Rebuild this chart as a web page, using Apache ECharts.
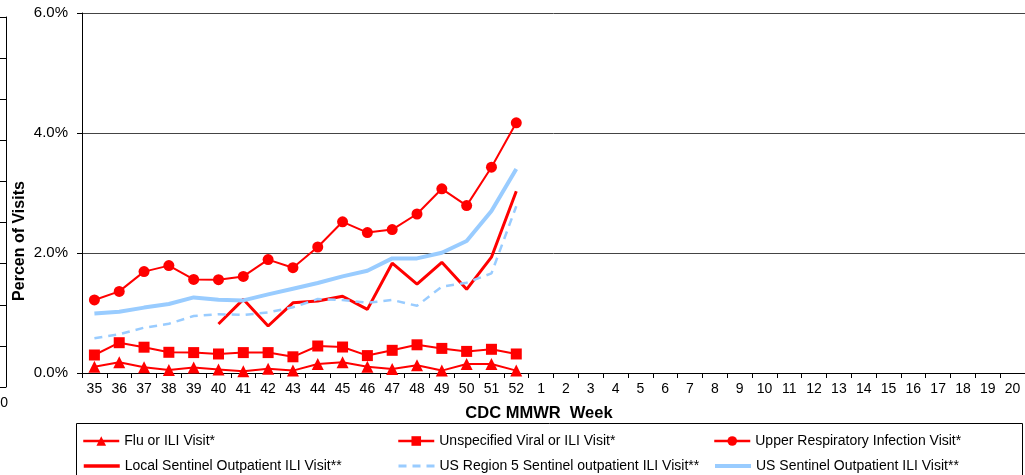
<!DOCTYPE html>
<html>
<head>
<meta charset="utf-8">
<script src="https://cdn.jsdelivr.net/npm/echarts@6/dist/echarts.min.js"></script>
<style>
html,body{margin:0;padding:0;background:#fff;}
#chart{width:1025px;height:475px;}
</style>
</head>
<body>
<div id="chart"></div>
<script>
var weeks = ['35','36','37','38','39','40','41','42','43','44','45','46','47','48','49','50','51','52',
  '1','2','3','4','5','6','7','8','9','10','11','12','13','14','15','16','17','18','19','20'];
var yTicks = [0, 2, 4, 6];

var fluILI = [0.105,0.18,0.095,0.05,0.09,0.06,0.03,0.07,0.04,0.15,0.18,0.105,0.065,0.13,0.04,0.15,0.15,0.04];
var unspecViral = [0.30,0.505,0.43,0.345,0.34,0.317,0.34,0.34,0.27,0.45,0.433,0.29,0.378,0.47,0.41,0.36,0.395,0.317];
var upperResp = [1.217,1.36,1.69,1.79,1.56,1.555,1.61,1.89,1.755,2.10,2.52,2.34,2.39,2.65,3.07,2.79,3.43,4.17];
var localSentinel = [null,null,null,null,null,0.817,1.228,0.783,1.17,1.20,1.28,1.06,1.83,1.48,1.845,1.395,1.93,3.03];
var region5Sentinel = [0.58,0.645,0.755,0.82,0.95,0.98,0.967,1.01,1.095,1.233,1.217,1.17,1.217,1.12,1.44,1.505,1.66,2.78];
var usSentinel = [0.99,1.02,1.09,1.15,1.26,1.22,1.21,1.31,1.405,1.50,1.61,1.705,1.91,1.91,2.005,2.20,2.70,3.40];

var names = ['Flu or ILI Visit*','Unspecified Viral or ILI Visit*','Upper Respiratory Infection Visit*',
  'Local Sentinel Outpatient ILI Visit**','US Region 5 Sentinel outpatient ILI Visit**','US Sentinel Outpatient ILI Visit**'];

var RED = '#ff0000', BLUE = '#99ccff';
var FONT = 'Liberation Sans, Arial, sans-serif';

var chart = echarts.init(document.getElementById('chart'));

var legendPos = [[82,434],[397,434],[713,434],[82,459],[397,459],[713,459]];
var legendLineW = [2.5, 2.5, 2.5, 3.5, 3, 4];
var legends = names.map(function(n, i){
  var lg = {
    data: [n], left: legendPos[i][0], top: legendPos[i][1],
    itemWidth: 36, itemHeight: 12, itemGap: 0,
    textStyle: {fontFamily: FONT, fontSize: 14, color: '#000'},
    lineStyle: {width: legendLineW[i]},
    selectedMode: false, padding: 0
  };
  if (i >= 3) lg.itemStyle = {opacity: 0};
  return lg;
});

var option = {
  animation: false,
  backgroundColor: '#fff',
  grid: [
    {left: 82, top: 13, width: 944, height: 360},
    {left: 6, top: 17, width: 1, height: 370}
  ],
  legend: legends,
  xAxis: [
    {
      type: 'category', data: weeks, gridIndex: 0,
      boundaryGap: true,
      axisLine: {lineStyle: {color: '#000', width: 1}},
      axisTick: {show: true, length: 5, interval: 0, lineStyle: {color: '#000'}},
      axisLabel: {interval: 0, color: '#000', fontFamily: FONT, fontSize: 14, margin: 9}
    },
    {type: 'category', gridIndex: 1, data: ['a'], show: false}
  ],
  yAxis: [
    {
      type: 'value', gridIndex: 0, min: 0, max: 6, interval: 2,
      axisLine: {show: true, lineStyle: {color: '#000', width: 1}},
      axisTick: {show: true, length: 5, lineStyle: {color: '#000'}},
      splitLine: {show: true, lineStyle: {color: '#444', width: 1}},
      axisLabel: {color: '#000', fontFamily: FONT, fontSize: 15, margin: 14,
        formatter: function(v){ return v.toFixed(1) + '%'; }}
    },
    {
      type: 'value', gridIndex: 1, min: 0, max: 9, interval: 1,
      axisLine: {show: true, lineStyle: {color: '#000', width: 1}},
      axisTick: {show: true, length: 6, lineStyle: {color: '#000'}},
      splitLine: {show: false},
      axisLabel: {show: false}
    }
  ],
  graphic: [
    {type: 'rect', shape: {x: 76.5, y: 423.5, width: 946, height: 60},
      style: {fill: 'none', stroke: '#000', lineWidth: 1}, z: -1},
    {type: 'text', x: 539, y: 413,
      style: {text: 'CDC MMWR  Week', fontFamily: FONT, fontSize: 16.5, fontWeight: 'bold',
        fill: '#000', align: 'center', verticalAlign: 'middle'}},
    {type: 'text', x: 20, y: 241, rotation: Math.PI / 2,
      style: {text: 'Percen of Visits', fontFamily: FONT, fontSize: 16, fontWeight: 'bold',
        fill: '#000', align: 'center', verticalAlign: 'middle'}},
    {type: 'text', x: 8, y: 403,
      style: {text: '20', fontFamily: FONT, fontSize: 14, fill: '#000', align: 'right', verticalAlign: 'middle'}}
  ],
  series: [
    {name: names[0], type: 'line', data: fluILI, symbol: 'triangle', symbolSize: 12,
      itemStyle: {color: RED}, lineStyle: {color: RED, width: 2}},
    {name: names[1], type: 'line', data: unspecViral, symbol: 'rect', symbolSize: 11,
      itemStyle: {color: RED}, lineStyle: {color: RED, width: 2}},
    {name: names[2], type: 'line', data: upperResp, symbol: 'circle', symbolSize: 11,
      itemStyle: {color: RED}, lineStyle: {color: RED, width: 2}},
    {name: names[3], type: 'line', data: localSentinel, showSymbol: false, symbol: 'none',
      itemStyle: {color: RED}, lineStyle: {color: RED, width: 3}},
    {name: names[4], type: 'line', data: region5Sentinel, showSymbol: false, symbol: 'none',
      itemStyle: {color: BLUE}, lineStyle: {color: BLUE, width: 2.5, type: [8, 6]}},
    {name: names[5], type: 'line', data: usSentinel, showSymbol: false, symbol: 'none',
      itemStyle: {color: BLUE}, lineStyle: {color: BLUE, width: 4}}
  ]
};
chart.setOption(option);
</script>
</body>
</html>
